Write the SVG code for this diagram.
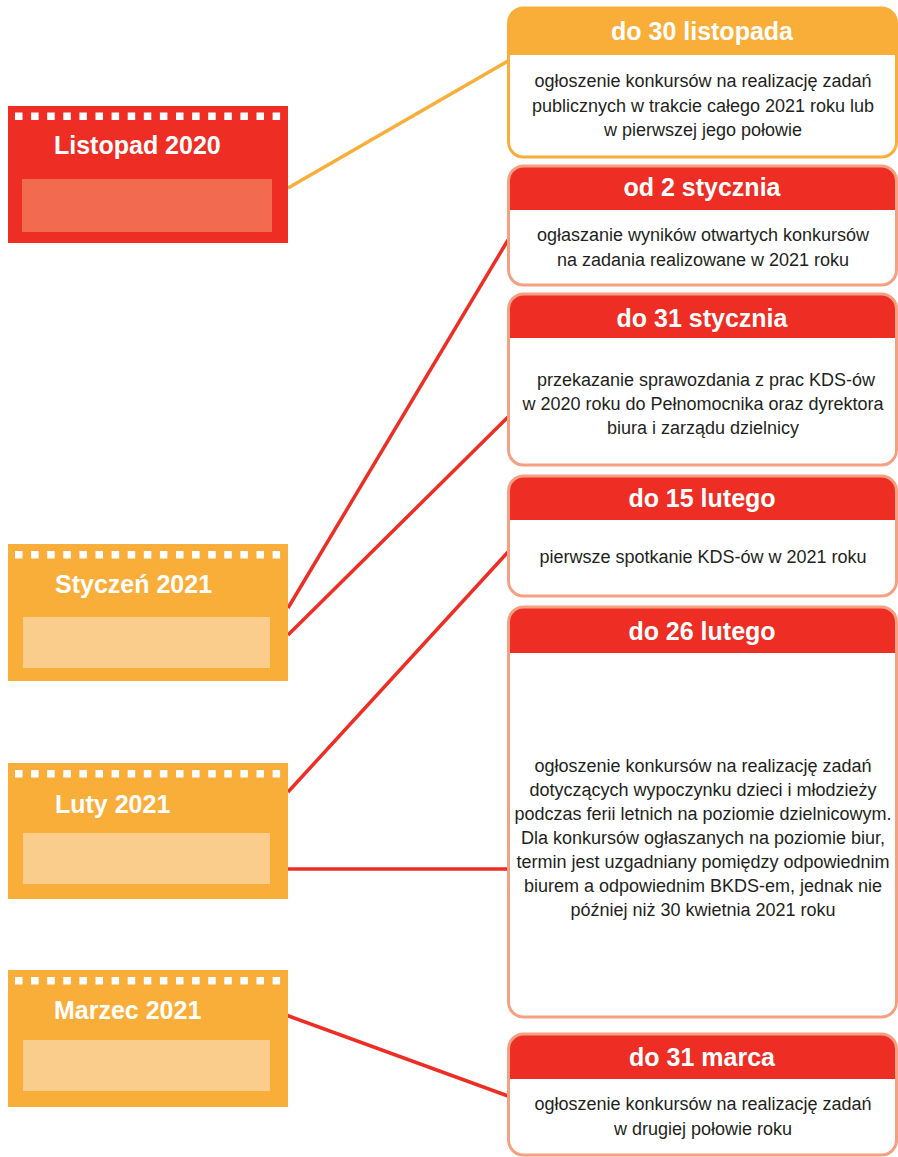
<svg xmlns="http://www.w3.org/2000/svg" width="898" height="1157" viewBox="0 0 898 1157">
<style>
.month{font-family:"Liberation Sans",Arial,sans-serif;font-weight:bold;font-size:25px;fill:#fff}
.hdr{font-family:"Liberation Sans",Arial,sans-serif;font-weight:bold;font-size:25px;fill:#fff;text-anchor:middle}
.body{font-family:"Liberation Sans",Arial,sans-serif;font-size:18px;fill:#231F20;text-anchor:middle}
.dot{fill:#fff}
.conn{fill:none;stroke-width:3.5}
.frameR{fill:none;stroke:#F4A081;stroke-width:3}
.frameO{fill:none;stroke:#F9AE3A;stroke-width:3}
</style>
<defs>
<g id="dots">
<rect class="dot" x="15" y="0" width="7.5" height="7.5"/><rect class="dot" x="31.1" y="0" width="7.5" height="7.5"/><rect class="dot" x="47.2" y="0" width="7.5" height="7.5"/><rect class="dot" x="63.3" y="0" width="7.5" height="7.5"/><rect class="dot" x="79.4" y="0" width="7.5" height="7.5"/><rect class="dot" x="95.5" y="0" width="7.5" height="7.5"/><rect class="dot" x="111.6" y="0" width="7.5" height="7.5"/><rect class="dot" x="127.7" y="0" width="7.5" height="7.5"/><rect class="dot" x="143.8" y="0" width="7.5" height="7.5"/><rect class="dot" x="159.9" y="0" width="7.5" height="7.5"/><rect class="dot" x="176" y="0" width="7.5" height="7.5"/><rect class="dot" x="192.1" y="0" width="7.5" height="7.5"/><rect class="dot" x="208.2" y="0" width="7.5" height="7.5"/><rect class="dot" x="224.3" y="0" width="7.5" height="7.5"/><rect class="dot" x="240.4" y="0" width="7.5" height="7.5"/><rect class="dot" x="256.5" y="0" width="7.5" height="7.5"/><rect class="dot" x="272.6" y="0" width="7.5" height="7.5"/>
</g>
</defs>
<rect width="898" height="1157" fill="#fff"/>

<g id="connectors">
<line class="conn" stroke="#F9AE3A" x1="288" y1="188" x2="508" y2="61"/>
<line class="conn" stroke="#EE2E24" x1="288" y1="608" x2="508" y2="240"/>
<line class="conn" stroke="#EE2E24" x1="288" y1="635" x2="508" y2="417"/>
<line class="conn" stroke="#EE2E24" x1="288" y1="792" x2="508" y2="552"/>
<line class="conn" stroke="#EE2E24" x1="288" y1="869" x2="508" y2="869"/>
<line class="conn" stroke="#EE2E24" x1="286" y1="1015" x2="508" y2="1096"/>
</g>

<g id="month-listopad">
<rect x="8" y="106" width="280" height="137" fill="#EE2E24"/>
<use href="#dots" y="112.5"/>
<text class="month" x="54" y="154">Listopad 2020</text>
<rect x="22" y="179" width="250" height="53" fill="#F26B50"/>
</g>
<g id="month-styczen">
<rect x="8" y="544" width="280" height="137" fill="#F9AE3A"/>
<use href="#dots" y="551"/>
<text class="month" x="55" y="593">Styczeń 2021</text>
<rect x="23" y="617" width="247" height="51" fill="#FBCD8C"/>
</g>
<g id="month-luty">
<rect x="8" y="763" width="280" height="136" fill="#F9AE3A"/>
<use href="#dots" y="770"/>
<text class="month" x="55" y="813">Luty 2021</text>
<rect x="23" y="833" width="247" height="51" fill="#FBCD8C"/>
</g>
<g id="month-marzec">
<rect x="8" y="970" width="280" height="137" fill="#F9AE3A"/>
<use href="#dots" y="977"/>
<text class="month" x="54" y="1019">Marzec 2021</text>
<rect x="23" y="1040" width="247" height="51" fill="#FBCD8C"/>
</g>

<g id="box-30-listopada">
<rect x="508.5" y="8" width="388" height="149" rx="15" fill="#fff"/>
<path d="M508.5,55 V23 A15,15 0 0 1 523.5,8 H881.5 A15,15 0 0 1 896.5,23 V55 Z" fill="#F9AE3A"/>
<rect class="frameO" x="508.5" y="8" width="388" height="149" rx="15"/>
<text class="hdr" x="702" y="40">do 30 listopada</text>
<text class="body" x="703" y="87">ogłoszenie konkursów na realizację zadań</text>
<text class="body" x="703" y="112">publicznych w trakcie całego 2021 roku lub</text>
<text class="body" x="703" y="136">w pierwszej jego połowie</text>
</g>

<g id="box-2-stycznia">
<rect x="508.5" y="166" width="388" height="119" rx="15" fill="#fff"/>
<path d="M508.5,210 V181 A15,15 0 0 1 523.5,166 H881.5 A15,15 0 0 1 896.5,181 V210 Z" fill="#EE2E24"/>
<rect class="frameR" x="508.5" y="166" width="388" height="119" rx="15"/>
<text class="hdr" x="702" y="196">od 2 stycznia</text>
<text class="body" x="703" y="241">ogłaszanie wyników otwartych konkursów</text>
<text class="body" x="703" y="266">na zadania realizowane w 2021 roku</text>
</g>

<g id="box-31-stycznia">
<rect x="508.5" y="294" width="388" height="171" rx="15" fill="#fff"/>
<path d="M508.5,338 V309 A15,15 0 0 1 523.5,294 H881.5 A15,15 0 0 1 896.5,309 V338 Z" fill="#EE2E24"/>
<rect class="frameR" x="508.5" y="294" width="388" height="171" rx="15"/>
<text class="hdr" x="702" y="327">do 31 stycznia</text>
<text class="body" x="706" y="386">przekazanie sprawozdania z prac KDS-ów</text>
<text class="body" x="703" y="410">w 2020 roku do Pełnomocnika oraz dyrektora</text>
<text class="body" x="703" y="434">biura i zarządu dzielnicy</text>
</g>

<g id="box-15-lutego">
<rect x="508.5" y="476" width="388" height="120" rx="15" fill="#fff"/>
<path d="M508.5,520 V491 A15,15 0 0 1 523.5,476 H881.5 A15,15 0 0 1 896.5,491 V520 Z" fill="#EE2E24"/>
<rect class="frameR" x="508.5" y="476" width="388" height="120" rx="15"/>
<text class="hdr" x="702" y="507">do 15 lutego</text>
<text class="body" x="703" y="563">pierwsze spotkanie KDS-ów w 2021 roku</text>
</g>

<g id="box-26-lutego">
<rect x="508.5" y="607" width="388" height="410" rx="15" fill="#fff"/>
<path d="M508.5,653 V622 A15,15 0 0 1 523.5,607 H881.5 A15,15 0 0 1 896.5,622 V653 Z" fill="#EE2E24"/>
<rect class="frameR" x="508.5" y="607" width="388" height="410" rx="15"/>
<text class="hdr" x="702" y="640">do 26 lutego</text>
<text class="body" x="703" y="772">ogłoszenie konkursów na realizację zadań</text>
<text class="body" x="703" y="796">dotyczących wypoczynku dzieci i młodzieży</text>
<text class="body" x="703" y="820">podczas ferii letnich na poziomie dzielnicowym.</text>
<text class="body" x="703" y="844">Dla konkursów ogłaszanych na poziomie biur,</text>
<text class="body" x="703" y="868">termin jest uzgadniany pomiędzy odpowiednim</text>
<text class="body" x="703" y="892">biurem a odpowiednim BKDS-em, jednak nie</text>
<text class="body" x="703" y="916">później niż 30 kwietnia 2021 roku</text>
</g>

<g id="box-31-marca">
<rect x="508.5" y="1034" width="388" height="121" rx="15" fill="#fff"/>
<path d="M508.5,1079 V1049 A15,15 0 0 1 523.5,1034 H881.5 A15,15 0 0 1 896.5,1049 V1079 Z" fill="#EE2E24"/>
<rect class="frameR" x="508.5" y="1034" width="388" height="121" rx="15"/>
<text class="hdr" x="702" y="1066">do 31 marca</text>
<text class="body" x="703" y="1110">ogłoszenie konkursów na realizację zadań</text>
<text class="body" x="703" y="1135">w drugiej połowie roku</text>
</g>
</svg>
